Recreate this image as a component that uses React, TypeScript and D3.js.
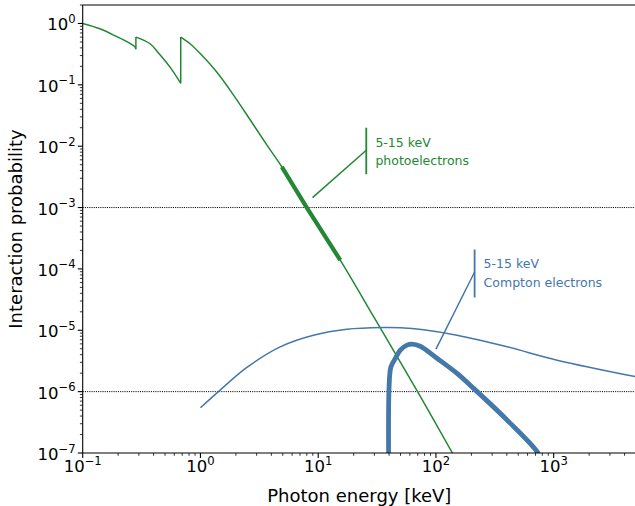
import React from "react";
import * as d3 from "d3";

// ---------- data (keV, probability) ----------
const photoSeg1: [number, number][] = [
  [0.1, 1.0], [0.14, 0.82], [0.195, 0.61], [0.24, 0.5], [0.278, 0.42],
];
const photoEdge1: [number, number][] = [
  [0.278, 0.42], [0.283, 0.38], [0.283, 0.6],
];
const photoSeg2: [number, number][] = [
  [0.283, 0.6], [0.373, 0.467], [0.44, 0.33], [0.552, 0.194], [0.68, 0.106],
];
const photoEdge2: [number, number][] = [
  [0.68, 0.106], [0.68, 0.6],
];
const photoSeg3: [number, number][] = [
  [0.68, 0.6], [0.817, 0.467], [1.0, 0.32], [1.38, 0.16], [1.91, 0.068],
  [2.64, 0.027], [3.66, 0.0105], [4.91, 0.0046], [8, 0.001], [15.4, 1.39e-4],
  [30, 1.59e-5], [69.8, 1e-6], [138, 1e-7], [160, 6e-8],
];
const photoThick: [number, number][] = [
  [4.91, 0.0046], [8, 0.001], [15.4, 1.39e-4],
];
const comptonThin: [number, number][] = [
  [1.0, 5.47e-7], [1.47, 1.06e-6], [2.48, 2.48e-6], [4.75, 5.37e-6],
  [9.1, 8.3e-6], [17.5, 1.04e-5], [35.9, 1.11e-5], [49.8, 1.1e-5],
  [78.5, 1.02e-5], [151, 8.3e-6], [402, 5.37e-6], [1069, 3.26e-6], [5000, 1.75e-6],
];
const comptonThick: [number, number][] = [
  [40, 1e-8], [40, 1.2e-6], [41.5, 2.54e-6], [45.2, 3.48e-6], [49.8, 4.75e-6],
  [56.8, 5.73e-6], [62.6, 5.95e-6], [73.6, 5.5e-6], [102, 3.5e-6],
  [151, 1.98e-6], [209, 1.13e-6], [402, 3.44e-7], [723, 1.05e-7], [800, 7e-8],
];
const refLines = [1e-3, 1e-6];
const xMajorExps = [-1, 0, 1, 2, 3];
const yMajorExps = [-7, -6, -5, -4, -3, -2, -1, 0];

// annotations (data coords)
const photoBar: [number, number][] = [[25.6, 2.0e-2], [25.6, 3.5e-3]];
const photoPointer: [number, number][] = [[8.95, 1.45e-3], [25.6, 8.6e-3]];
const photoText = { x: 30.6, y1: 9.7e-3, y2: 4.9e-3, l1: "5-15 keV", l2: "photoelectrons" };
const comptonBar: [number, number][] = [[213, 2.07e-4], [213, 3.43e-5]];
const comptonPointer: [number, number][] = [[100, 4.93e-6], [213, 8.9e-5]];
const comptonText = { x: 254, y1: 1.02e-4, y2: 5.1e-5, l1: "5-15 keV", l2: "Compton electrons" };

const GREEN = "#228833";
const BLUE = "#4477AA";
const FONT = "DejaVu Sans, sans-serif";

const W = 635, H = 506;
const L = 82.7, R = 636, T = 5, B = 453;

export default function App() {
  const x = d3.scaleLog().domain([0.1, 5000]).range([L, R]);
  const y = d3.scaleLog().domain([1e-7, 2]).range([B, T]);

  const smooth = d3.line<[number, number]>().x(d => x(d[0])).y(d => y(d[1])).curve(d3.curveCatmullRom.alpha(0.5));
  const lin = d3.line<[number, number]>().x(d => x(d[0])).y(d => y(d[1]));

  const xMinor = x.ticks().filter(v => Math.abs(Math.log10(v) - Math.round(Math.log10(v))) > 1e-6);
  const yMinor = y.ticks().filter(v => Math.abs(Math.log10(v) - Math.round(Math.log10(v))) > 1e-6);

  const sup = (e: number) => (e < 0 ? "\u2212" + Math.abs(e) : String(e));

  return (
    <svg width={W} height={H} style={{ position: "fixed", left: 0, top: 0, background: "#fff" }} fontFamily={FONT}>
      <defs>
        <clipPath id="plot">
          <rect x={L} y={T} width={R - L} height={B - T} />
        </clipPath>
      </defs>
      <rect x={0} y={0} width={W} height={H} fill="#fff" />

      <g clipPath="url(#plot)">
        {refLines.map(v => (
          <line key={v} x1={L} x2={R} y1={y(v)} y2={y(v)} stroke="#000" strokeWidth={1} strokeDasharray="1.1,1.1" />
        ))}
        <path d={smooth(photoSeg1)!} fill="none" stroke={GREEN} strokeWidth={1.5} />
        <path d={lin(photoEdge1)!} fill="none" stroke={GREEN} strokeWidth={1.5} />
        <path d={smooth(photoSeg2)!} fill="none" stroke={GREEN} strokeWidth={1.5} />
        <path d={lin(photoEdge2)!} fill="none" stroke={GREEN} strokeWidth={1.5} />
        <path d={smooth(photoSeg3)!} fill="none" stroke={GREEN} strokeWidth={1.5} />
        <path d={lin(photoThick)!} fill="none" stroke={GREEN} strokeWidth={4.2} />
        <path d={smooth(comptonThin)!} fill="none" stroke={BLUE} strokeWidth={1.5} />
        <path d={smooth(comptonThick)!} fill="none" stroke={BLUE} strokeWidth={4.8} strokeLinejoin="round" />
      </g>

      {/* annotations */}
      <path d={lin(photoBar)!} stroke={GREEN} strokeWidth={1.8} fill="none" />
      <path d={lin(photoPointer)!} stroke={GREEN} strokeWidth={1.5} fill="none" />
      <text x={x(photoText.x)} y={y(photoText.y1)} fill={GREEN} fontSize={12.5}>{photoText.l1}</text>
      <text x={x(photoText.x)} y={y(photoText.y2)} fill={GREEN} fontSize={12.5}>{photoText.l2}</text>
      <path d={lin(comptonBar)!} stroke={BLUE} strokeWidth={1.8} fill="none" />
      <path d={lin(comptonPointer)!} stroke={BLUE} strokeWidth={1.5} fill="none" />
      <text x={x(comptonText.x)} y={y(comptonText.y1)} fill={BLUE} fontSize={12.5}>{comptonText.l1}</text>
      <text x={x(comptonText.x)} y={y(comptonText.y2)} fill={BLUE} fontSize={12.5}>{comptonText.l2}</text>

      {/* spines */}
      <line x1={L} x2={L} y1={T} y2={B} stroke="#000" strokeWidth={1.1} />
      <line x1={L} x2={R} y1={B} y2={B} stroke="#000" strokeWidth={1.1} />
      <line x1={L} x2={R} y1={T} y2={T} stroke="#000" strokeWidth={1.1} />
      <line x1={R} x2={R} y1={T} y2={B} stroke="#000" strokeWidth={1.1} />

      {/* x ticks */}
      {xMinor.map((v, i) => (
        <line key={"xm" + i} x1={x(v)} x2={x(v)} y1={B} y2={B + 2.8} stroke="#000" strokeWidth={0.8} />
      ))}
      {xMajorExps.map(e => (
        <g key={"xM" + e}>
          <line x1={x(Math.pow(10, e))} x2={x(Math.pow(10, e))} y1={B} y2={B + 4.9} stroke="#000" strokeWidth={1.1} />
          <text x={x(Math.pow(10, e))} y={472} textAnchor="middle" fontSize={16.5}>
            10<tspan dy={-7.5} fontSize={11.6}>{sup(e)}</tspan>
          </text>
        </g>
      ))}

      {/* y ticks */}
      {yMinor.map((v, i) => (
        <line key={"ym" + i} x1={L - 2.8} x2={L} y1={y(v)} y2={y(v)} stroke="#000" strokeWidth={0.8} />
      ))}
      {yMajorExps.map(e => (
        <g key={"yM" + e}>
          <line x1={L - 4.9} x2={L} y1={y(Math.pow(10, e))} y2={y(Math.pow(10, e))} stroke="#000" strokeWidth={1.1} />
          <text x={L - 7} y={y(Math.pow(10, e)) + 7} textAnchor="end" fontSize={16.5}>
            10<tspan dy={-7.5} fontSize={11.6}>{sup(e)}</tspan>
          </text>
        </g>
      ))}

      {/* axis labels */}
      <text x={(L + R) / 2} y={502} textAnchor="middle" fontSize={18}>Photon energy [keV]</text>
      <text transform={`translate(22,${(T + B) / 2}) rotate(-90)`} textAnchor="middle" fontSize={18}>Interaction probability</text>
    </svg>
  );
}
